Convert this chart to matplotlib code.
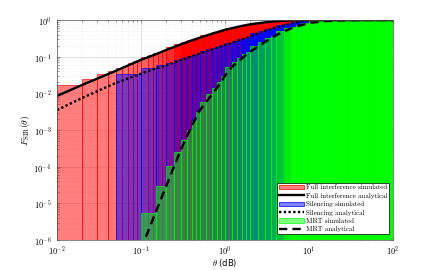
import numpy as np
import matplotlib
matplotlib.use('Agg')
import matplotlib.pyplot as plt
from matplotlib.colors import to_rgba
from matplotlib.patches import Patch
from matplotlib.lines import Line2D
from matplotlib.ticker import FixedLocator, FuncFormatter, LogLocator, NullFormatter

# ---------------- data ----------------
# Full interference simulated: bar edges (theta) and bar heights
red_edges = [0.01, 0.02, 0.03, 0.04, 0.05, 0.06, 0.07, 0.08, 0.09, 0.10,
             0.12, 0.14, 0.16, 0.18, 0.20,
             0.25, 0.30, 0.35, 0.40, 0.45, 0.50,
             0.6, 0.7, 0.8, 0.9, 1.0,
             1.2, 1.4, 1.6, 1.8, 2.0,
             2.5, 3.0, 3.5, 4.0,
             5, 6, 7, 8,
             10, 15, 20, 30, 50, 100]
red_vals = [0.017, 0.025, 0.033, 0.041, 0.049, 0.057, 0.066, 0.074, 0.082,
            0.096, 0.109, 0.123, 0.137, 0.153,
            0.187, 0.218, 0.248, 0.277, 0.303, 0.328,
            0.378, 0.423, 0.463, 0.502, 0.541,
            0.607, 0.650, 0.691, 0.729, 0.766,
            0.819, 0.863, 0.904, 0.923,
            0.959, 0.980, 0.990, 0.995,
            0.999, 1.0, 1.0, 1.0, 1.0, 1.0]

# Silencing / MRT simulated: shared bar edges
bg_edges = [0.05, 0.10, 0.15, 0.20, 0.25, 0.30, 0.35, 0.40, 0.45, 0.50,
            0.6, 0.7, 0.8, 0.9, 1.0,
            1.2, 1.4, 1.6, 1.8, 2.0,
            2.5, 3.0, 3.5, 4.0,
            5, 6, 7, 8,
            10, 15, 20, 30, 50, 100]
blue_vals = [0.0344, 0.048, 0.058, 0.0689, 0.0807, 0.0923, 0.103, 0.113, 0.122,
             0.141, 0.158, 0.176, 0.192, 0.208,
             0.239, 0.269, 0.298, 0.325, 0.353,
             0.430, 0.505, 0.575, 0.624,
             0.716, 0.800, 0.873, 0.916,
             0.990, 0.998, 1.0, 1.0, 1.0, 1.0]
green_vals = [0.0, 5.5e-6, 2.97e-5, 1.04e-4, 2.5e-4, 5.4e-4, 1.0e-3, 1.8e-3, 3.1e-3,
              5.9e-3, 9.3e-3, 0.0139, 0.021, 0.030,
              0.052, 0.071, 0.091, 0.115, 0.136,
              0.195, 0.255, 0.318, 0.376,
              0.489, 0.590, 0.661, 0.730,
              0.822, 0.927, 0.957, 0.986, 0.995, 1.0]

# Analytical curves
theta_ana = [0.01, 0.02, 0.05, 0.1, 0.15, 0.2, 0.3, 0.4, 0.5, 0.7, 1.0,
             1.5, 2.0, 3.0, 4.0, 5.0, 7.0, 10.0, 20.0, 100.0]
full_ana = [0.0085, 0.017, 0.041, 0.082, 0.116, 0.153, 0.218, 0.277, 0.328, 0.423, 0.541,
            0.671, 0.766, 0.863, 0.923, 0.959, 0.990, 0.999, 1.0, 1.0]
sil_ana = [0.0035, 0.0075, 0.0192, 0.0344, 0.048, 0.058, 0.0807, 0.103, 0.122, 0.158, 0.208,
           0.284, 0.353, 0.505, 0.624, 0.716, 0.873, 0.990, 0.999, 1.0]
theta_mrt = [0.1, 0.112, 0.15, 0.2, 0.25, 0.3, 0.4, 0.5, 0.7, 0.8, 1.0, 1.2,
             1.5, 2.0, 3.0, 4.0, 5.0, 7.0, 10.0, 15.0, 20.0, 30.0, 50.0, 100.0]
mrt_ana = [5.6e-7, 1.07e-6, 5.8e-6, 3.0e-5, 1.07e-4, 3.0e-4, 1.26e-3, 3.4e-3, 9.3e-3, 0.0139, 0.030, 0.052,
           0.081, 0.136, 0.255, 0.376, 0.489, 0.661, 0.822, 0.927, 0.957, 0.986, 0.995, 1.0]

labels = ['Full interference simulated', 'Full interference analytical',
          'Silencing simulated', 'Silencing analytical',
          'MRT simulated', 'MRT analytical']

# ---------------- figure ----------------
plt.rcParams['mathtext.fontset'] = 'cm'
W, H = 436, 270
fig = plt.figure(figsize=(W / 100, H / 100), dpi=100)
L, R, T, B = 57, 393, 20, 240
ax = fig.add_axes([L / W, 1 - B / H, (R - L) / W, (B - T) / H])
ax.set_xscale('log')
ax.set_yscale('log')
ax.set_xlim(1e-2, 1e2)
ax.set_ylim(1e-6, 1)
ax.set_axisbelow(True)
ax.grid(True, which='major', color='#d9d9d9', lw=0.5, ls='-')
ax.grid(True, which='minor', color='#e6e6e6', lw=0.4, ls=':')

px_per_dec = (R - L) / 4.0


def draw_bars(edges, vals, color, step, lw_eff, power):
    e = np.asarray(edges, float)
    v = np.asarray(vals, float)
    left, right = e[:-1], e[1:]
    m = v > 0
    centers = np.sqrt(left * right)
    s = px_per_dec * np.log10(1 + step / centers)
    c = np.clip(lw_eff / s, 0, 1) ** power
    alpha = 0.5 + 0.5 * c
    base = np.array(to_rgba(color))
    fc = np.tile(base, (len(v), 1))
    fc[:, 3] = alpha
    bottom = 1e-9
    ax.bar(left[m], v[m] - bottom, width=(right - left)[m], bottom=bottom,
           align='edge', color=fc[m], edgecolor=color, linewidth=0.45)


draw_bars(red_edges, red_vals, '#ff0000', 0.01, 1.2, 1.5)
draw_bars(bg_edges, blue_vals, '#0000ff', 0.05, 0.9, 1.5)
draw_bars(bg_edges, green_vals, '#00ff00', 0.05, 0.3, 2.0)

ax.plot(theta_ana, full_ana, color='k', lw=1.7, solid_capstyle='butt')
ax.plot(theta_ana, sil_ana, color='k', lw=1.7, dashes=(1.0, 1.0))
ax.plot(theta_mrt, mrt_ana, color='k', lw=1.7, dashes=(3.5, 2.2))

# ticks
ax.xaxis.set_major_locator(FixedLocator([1e-2, 1e-1, 1e0, 1e1, 1e2]))
ax.yaxis.set_major_locator(FixedLocator([1e-6, 1e-5, 1e-4, 1e-3, 1e-2, 1e-1, 1e0]))
fmt = FuncFormatter(lambda v, p: r'$10^{%d}$' % int(round(np.log10(v))))
ax.xaxis.set_major_formatter(fmt)
ax.yaxis.set_major_formatter(fmt)
ax.xaxis.set_minor_locator(LogLocator(base=10, subs=np.arange(2, 10), numticks=20))
ax.yaxis.set_minor_locator(LogLocator(base=10, subs=np.arange(2, 10), numticks=20))
ax.xaxis.set_minor_formatter(NullFormatter())
ax.yaxis.set_minor_formatter(NullFormatter())
ax.tick_params(which='both', direction='in', top=True, right=True, labelsize=6,
               width=0.4, color='#444444')
ax.tick_params(which='major', length=2.5)
ax.tick_params(axis='y', which='major', pad=4)
ax.tick_params(axis='x', which='major', pad=3)
ax.tick_params(which='minor', length=1.3)
for sp in ax.spines.values():
    sp.set_linewidth(0.5)
    sp.set_color('#555555')

ax.set_xlabel(r'$\theta$ (dB)', fontsize=6, labelpad=0)
ax.set_ylabel(r'$F_{\rm SIR}(\theta)$', fontsize=7, labelpad=1)

handles = [Patch(facecolor=(1, 0, 0, 0.5), edgecolor='r', lw=0.5),
           Line2D([], [], color='k', lw=1.7),
           Patch(facecolor=(0, 0, 1, 0.5), edgecolor='b', lw=0.5),
           Line2D([], [], color='k', lw=1.7, dashes=(1.0, 1.0)),
           Patch(facecolor=(0, 1, 0, 0.5), edgecolor=(0, 1, 0), lw=0.5),
           Line2D([], [], color='k', lw=1.7, dashes=(3.5, 2.2))]
leg = ax.legend(handles, labels, loc='lower right',
                bbox_to_anchor=((389 - L) / (R - L), (B - 234) / (B - T)),
                borderaxespad=0, prop={'family': ['cmr10', 'DejaVu Serif'], 'size': 5},
                frameon=True, fancybox=False,
                framealpha=1, edgecolor='k', handlelength=3.6, handleheight=0.6,
                labelspacing=0.35, borderpad=0.25, handletextpad=0.25)
leg.get_frame().set_linewidth(0.5)

fig.savefig('out.png', dpi=100)
